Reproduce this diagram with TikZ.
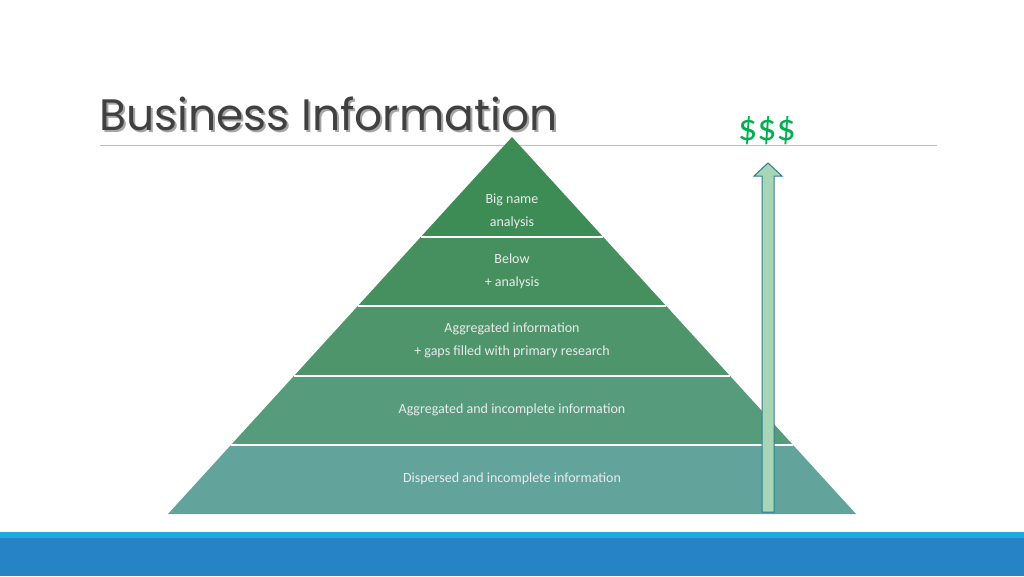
\documentclass[tikz,border=0pt]{standalone}
\usepackage{fontspec}
\setmainfont{Carlito}
\newfontfamily\titlefont{Poppins}
\begin{document}
\begin{tikzpicture}[x=1pt,y=-1pt,
  lbl/.style={text=white!92!black,font=\fontsize{14}{17}\selectfont,align=center},
  sep/.style={white,line width=1.5pt}]
\useasboundingbox (0,0) rectangle (1024,576);
\fill[white] (0,0) rectangle (1024,576);
% bottom band
\fill[fill={rgb,255:red,31;green,169;blue,225}] (0,532) rectangle (1024,538);
\fill[fill={rgb,255:red,38;green,131;blue,198}] (0,538) rectangle (1024,576);
% title
\node[anchor=base west,font=\titlefont\fontsize{44}{50}\selectfont,text=black!35,inner sep=0] at (101,132) {Business Information};
\node[anchor=base west,font=\titlefont\fontsize{44}{50}\selectfont,text=black!75,inner sep=0] (title) at (99,130) {Business Information};
\draw[black!25,line width=0.8pt] (100,145) -- (937,145);
\node[anchor=base,text={rgb,255:red,0;green,176;blue,80},font=\fontsize{38}{40}\selectfont,inner sep=0] (money) at (767,140) {\$\$\$};
% pyramid: apex (512,137), base 514 halfwidth 344
\def\hw#1{(#1-137)*0.91247}
\foreach \ya/\yb/\r/\g/\b in {137/237/61/139/85, 237/306/70/144/96, 306/376/78/149/108, 376/445/86/155/124, 445/514/98/163/156}{
  \fill[fill={rgb,255:red,\r;green,\g;blue,\b}] ({512-\hw{\ya}},\ya) -- ({512+\hw{\ya}},\ya) -- ({512+\hw{\yb}},\yb) -- ({512-\hw{\yb}},\yb) -- cycle;
}
\foreach \y in {237,306,376,445}{ \draw[sep] ({512-\hw{\y}},\y) -- ({512+\hw{\y}},\y); }
\node[lbl] (l1) at (512,211) {Big name\\[6pt]analysis};
\node[lbl] (l2) at (512,271) {Below\\[6pt]+ analysis};
\node[lbl] (l3) at (512,340) {Aggregated information\\[6pt]+ gaps filled with primary research};
\node[lbl] (l4) at (512,410) {Aggregated and incomplete information};
\node[lbl] (l5) at (512,479) {Dispersed and incomplete information};
% arrow
\filldraw[fill={rgb,255:red,168;green,213;blue,181},draw={rgb,255:red,46;green,125;blue,150},line width=1pt]
  (762,512) -- (762,176) -- (754,176) -- (768,163) -- (782,176) -- (774,176) -- (774,512) -- cycle;
\end{tikzpicture}
\end{document}
